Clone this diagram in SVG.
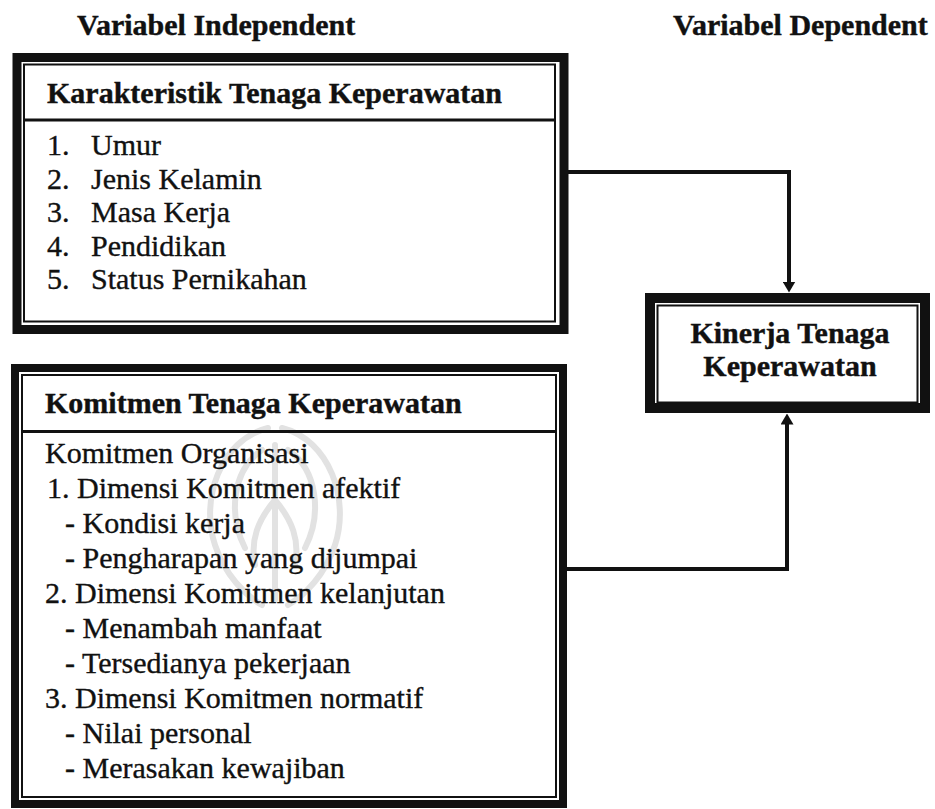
<svg xmlns="http://www.w3.org/2000/svg" width="935" height="809" viewBox="0 0 935 809">
  <style>
    .title { font-family: "Liberation Serif", "Times New Roman", serif; font-weight: bold; font-size: 30px; fill: #111; stroke: #111; stroke-width: 0.4; }
    .item { font-family: "Liberation Serif", "Times New Roman", serif; font-size: 30px; fill: #111; stroke: #111; stroke-width: 0.35; }
    .thick { fill: none; stroke: #111; }
    .thin { fill: none; stroke: #111; stroke-width: 2; }
    .sep { stroke: #111; stroke-width: 3; }
    .conn { fill: none; stroke: #111; stroke-width: 4; stroke-linejoin: miter; }
    .mark { fill: none; stroke: #e2e2e2; stroke-width: 6; stroke-linecap: round; }
  </style>
  <defs>
    <marker id="arrow" viewBox="0 0 11 13" refX="0.5" refY="6.5" markerWidth="11" markerHeight="13" markerUnits="userSpaceOnUse" orient="auto">
      <path d="M0,0 L11,6.5 L0,13 z" fill="#111"/>
    </marker>
  </defs>
  <rect width="935" height="809" fill="#fff"/>

  <!-- faint emblem behind the lower box -->
  <g id="emblem">
    <path class="mark" d="M268,428 C220,440 200,500 215,545 C225,575 245,595 262,605"/>
    <path class="mark" d="M282,428 C330,440 350,500 335,545 C325,575 305,595 288,605"/>
    <path class="mark" d="M262,450 C232,470 228,515 245,548"/>
    <path class="mark" d="M288,450 C318,470 322,515 305,548"/>
    <path class="mark" d="M275,445 V600"/>
    <path class="mark" d="M275,500 C258,520 250,540 255,565"/>
    <path class="mark" d="M275,500 C292,520 300,540 295,565"/>
  </g>

  <text class="title" x="77" y="35">Variabel Independent</text>
  <text class="title" x="673" y="35">Variabel Dependent</text>

  <g id="karakteristik">
    <rect class="thick" x="17" y="57.5" width="547" height="272" stroke-width="9"/>
    <rect class="thin" x="24" y="64.5" width="531" height="257"/>
    <line class="sep" x1="24" y1="120" x2="555" y2="120"/>
    <text class="title" x="47" y="103">Karakteristik Tenaga Keperawatan</text>
    <text class="item" x="47" y="155">1.</text><text class="item" x="91" y="155">Umur</text>
    <text class="item" x="47" y="188.5">2.</text><text class="item" x="91" y="188.5">Jenis Kelamin</text>
    <text class="item" x="47" y="222">3.</text><text class="item" x="91" y="222">Masa Kerja</text>
    <text class="item" x="47" y="255.5">4.</text><text class="item" x="91" y="255.5">Pendidikan</text>
    <text class="item" x="47" y="289">5.</text><text class="item" x="91" y="289">Status Pernikahan</text>
  </g>

  <g id="komitmen">
    <rect class="thick" x="15" y="368" width="548" height="436" stroke-width="8"/>
    <rect class="thin" x="22" y="375" width="534" height="422"/>
    <line class="sep" x1="22" y1="431.5" x2="555" y2="431.5"/>
    <text class="title" x="45" y="413">Komitmen Tenaga Keperawatan</text>
    <text class="item" x="45" y="463">Komitmen Organisasi</text>
    <text class="item" x="47" y="498">1. Dimensi Komitmen afektif</text>
    <text class="item" x="65" y="533">- Kondisi kerja</text>
    <text class="item" x="65" y="568">- Pengharapan yang dijumpai</text>
    <text class="item" x="45" y="603">2. Dimensi Komitmen kelanjutan</text>
    <text class="item" x="65" y="638">- Menambah manfaat</text>
    <text class="item" x="65" y="673">- Tersedianya pekerjaan</text>
    <text class="item" x="45" y="708">3. Dimensi Komitmen normatif</text>
    <text class="item" x="65" y="743">- Nilai personal</text>
    <text class="item" x="65" y="778">- Merasakan kewajiban</text>
  </g>

  <g id="kinerja">
    <rect class="thick" x="650" y="298" width="275" height="110" stroke-width="10"/>
    <rect class="thin" x="657.5" y="305.5" width="260" height="97" stroke-width="1.5"/>
    <text class="title" x="790" y="343" text-anchor="middle">Kinerja Tenaga</text>
    <text class="title" x="790" y="376" text-anchor="middle">Keperawatan</text>
  </g>

  <g id="connectors">
    <path class="conn" d="M568,172 H789 V282" marker-end="url(#arrow)"/>
    <path class="conn" d="M567,569 H787 V424" marker-end="url(#arrow)"/>
  </g>
</svg>
